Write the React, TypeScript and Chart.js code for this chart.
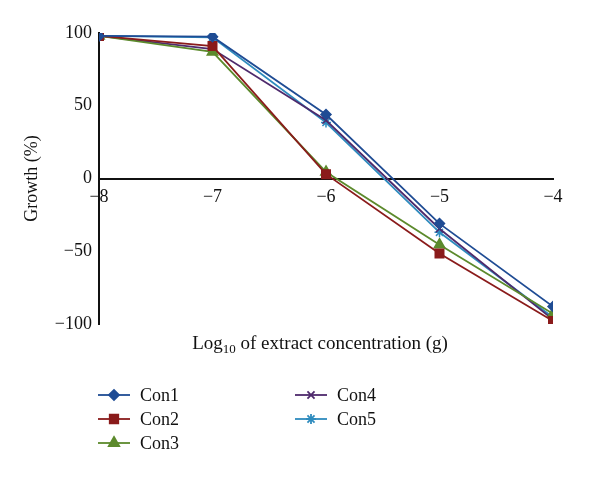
import React, { useEffect, useRef } from "react";
import { Chart, registerables } from "chart.js";
import { drawPoint } from "chart.js/helpers";

Chart.register(...registerables);

const xValues = [-8, -7, -6, -5, -4];
const con1 = [98, 97.5, 44, -31, -88];
const con2 = [98, 91, 3, -51.5, -98];
const con3 = [98, 87, 4.5, -45.5, -93];
const con4 = [98, 89, 40, -34.5, -97];
const con5 = [98, 97, 38.5, -37, -95.5];
const seriesNames = ["Con1", "Con2", "Con3", "Con4", "Con5"];
const seriesColors = ["#1F4C94", "#8A1B1B", "#5C8A2C", "#4E2A6C", "#2E8BBE"];
const seriesMarkers = ["rectRot", "rect", "triangle", "crossRot", "star"];
const seriesRadius = [5, 6, 6, 5, 5];
const yTickValues = [-100, -50, 0, 50, 100];

const FONT = "'Liberation Serif', 'DejaVu Serif', serif";

const fmt = (v: number) => String(v).replace("-", "\u2212");

const extrasPlugin = {
  id: "extras",
  afterDraw(chart: any) {
    const ctx = chart.ctx;
    ctx.save();
    // x title with subscript
    const size = 19;
    const subSize = 13;
    const p1 = "Log";
    const p2 = "10";
    const p3 = " of extract concentration (g)";
    ctx.font = `${size}px ${FONT}`;
    const w1 = ctx.measureText(p1).width;
    const w3 = ctx.measureText(p3).width;
    ctx.font = `${subSize}px ${FONT}`;
    const w2 = ctx.measureText(p2).width;
    const total = w1 + w2 + w3;
    const cx = 320;
    const base = 349;
    let x = cx - total / 2;
    ctx.fillStyle = "#111";
    ctx.textBaseline = "alphabetic";
    ctx.textAlign = "left";
    ctx.font = `${size}px ${FONT}`;
    ctx.fillText(p1, x, base);
    x += w1;
    ctx.font = `${subSize}px ${FONT}`;
    ctx.fillText(p2, x, base + 4);
    x += w2;
    ctx.font = `${size}px ${FONT}`;
    ctx.fillText(p3, x, base);

    // legend
    const cols = [98, 295];
    const rows = [395, 419, 443];
    chart.data.datasets.forEach((ds: any, i: number) => {
      const col = i < 3 ? 0 : 1;
      const row = i < 3 ? i : i - 3;
      const lx = cols[col];
      const ly = rows[row];
      ctx.strokeStyle = ds.borderColor;
      ctx.fillStyle = ds.borderColor;
      ctx.lineWidth = 1.8;
      ctx.beginPath();
      ctx.moveTo(lx, ly);
      ctx.lineTo(lx + 32, ly);
      ctx.stroke();
      drawPoint(
        ctx,
        { pointStyle: ds.pointStyle, radius: ds.pointRadius, rotation: 0, borderWidth: 1.5 },
        lx + 16,
        ly
      );
      ctx.fillStyle = "#111";
      ctx.font = `18px ${FONT}`;
      ctx.textBaseline = "middle";
      ctx.fillText(ds.label, lx + 42, ly + 1);
    });
    ctx.restore();
  },
};

export default function App() {
  const ref = useRef<HTMLCanvasElement>(null);
  useEffect(() => {
    const seriesValues = [con1, con2, con3, con4, con5];
    const chart = new Chart(ref.current as HTMLCanvasElement, {
      type: "line",
      data: {
        datasets: seriesValues.map((vals, i) => ({
          label: seriesNames[i],
          data: xValues.map((x, j) => ({ x, y: vals[j] })),
          borderColor: seriesColors[i],
          backgroundColor: seriesColors[i],
          pointBackgroundColor: seriesColors[i],
          pointBorderColor: seriesColors[i],
          pointStyle: seriesMarkers[i] as any,
          pointRadius: seriesRadius[i],
          pointBorderWidth: 1.5,
          borderWidth: 1.8,
          tension: 0,
        })),
      },
      options: {
        animation: false,
        responsive: false,
        layout: { padding: { left: 0, right: 47, top: 33, bottom: 154 } },
        plugins: { legend: { display: false }, tooltip: { enabled: false } },
        scales: {
          x: {
            type: "linear",
            position: { y: 0 } as any,
            min: -8,
            max: -4,
            grid: { display: false, drawTicks: false },
            border: { display: true, color: "#111", width: 2 },
            ticks: {
              stepSize: 1,
              padding: 8,
              color: "#111",
              font: { family: FONT, size: 18 },
              callback: (v: any) => fmt(Number(v)),
            },
          },
          y: {
            type: "linear",
            min: -100,
            max: 100,
            afterFit: (s: any) => {
              s.width = 99;
            },
            afterBuildTicks: (s: any) => {
              s.ticks = yTickValues.map((v) => ({ value: v }));
            },
            grid: { display: false, drawTicks: false },
            border: { display: true, color: "#111", width: 2 },
            title: {
              display: true,
              text: "Growth (%)",
              color: "#111",
              font: { family: FONT, size: 18 },
              padding: { top: 21, bottom: 0 },
            },
            ticks: {
              padding: 7,
              color: "#111",
              font: { family: FONT, size: 18 },
              callback: (v: any) => fmt(Number(v)),
            },
          },
        },
      },
      plugins: [extrasPlugin],
    });
    return () => chart.destroy();
  }, []);
  return (
    <div style={{ position: "absolute", left: 0, top: 0, width: 600, height: 478, background: "#fff" }}>
      <canvas ref={ref} width={600} height={478} />
    </div>
  );
}
